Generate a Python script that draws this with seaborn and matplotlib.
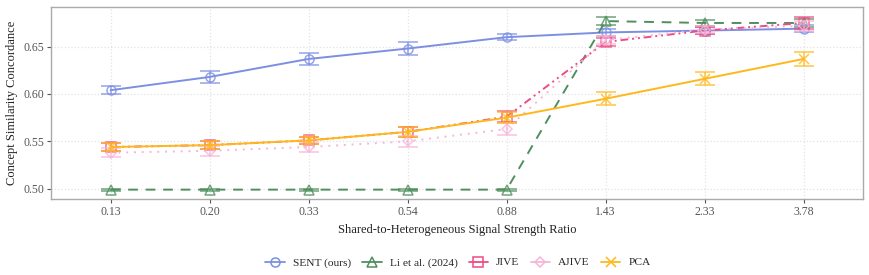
import matplotlib
matplotlib.use("Agg")
import matplotlib.pyplot as plt
import seaborn as sns
import pandas as pd

ratios = ["0.13", "0.20", "0.33", "0.54", "0.88", "1.43", "2.33", "3.78"]
sent = [0.604, 0.618, 0.637, 0.648, 0.660, 0.665, 0.667, 0.669]
sent_err = [0.004, 0.006, 0.006, 0.007, 0.003, 0.004, 0.004, 0.004]
li = [0.499, 0.499, 0.499, 0.499, 0.499, 0.677, 0.675, 0.675]
li_err = [0.001, 0.001, 0.001, 0.001, 0.001, 0.004, 0.003, 0.004]
jive = [0.544, 0.546, 0.551, 0.560, 0.576, 0.655, 0.667, 0.675]
jive_err = [0.004, 0.004, 0.004, 0.005, 0.006, 0.004, 0.004, 0.006]
ajive = [0.538, 0.540, 0.544, 0.550, 0.563, 0.657, 0.668, 0.672]
ajive_err = [0.005, 0.005, 0.005, 0.006, 0.006, 0.004, 0.004, 0.005]
pca = [0.544, 0.546, 0.551, 0.560, 0.575, 0.595, 0.616, 0.637]
pca_err = [0.004, 0.004, 0.004, 0.005, 0.006, 0.007, 0.007, 0.007]

methods = ["SENT (ours)", "Li et al. (2024)", "JIVE", "AJIVE", "PCA"]
values = [sent, li, jive, ajive, pca]
errors = [sent_err, li_err, jive_err, ajive_err, pca_err]
colors = ["#7D8FE3", "#4F8F5E", "#EE4B82", "#F7B5DA", "#FFB81C"]
markers = ["o", "^", "s", "D", "x"]
styles = ["-", (0, (5, 4)), (0, (4, 2, 1, 2, 1, 2)), (0, (1, 3)), "-"]

sns.set_theme(style="whitegrid")
plt.rcParams["font.family"] = ["Liberation Serif", "DejaVu Serif"]

fig = plt.figure(figsize=(8.69, 2.75), dpi=100)
ax = fig.add_axes([0.059, 0.276, 0.934, 0.699])

rows = []
for m, v, e in zip(methods, values, errors):
    for i, (r, y, err) in enumerate(zip(ratios, v, e)):
        rows.append({"ratio": r, "pos": i, "value": y, "err": err, "method": m})
df = pd.DataFrame(rows)

handles = []
for m, c, mk, ls in zip(methods, colors, markers, styles):
    sub = df[df["method"] == m]
    ms = 6.5 if mk != "D" else 5.5
    sns.lineplot(data=sub, x="pos", y="value", ax=ax, color=c, linestyle=ls,
                 linewidth=1.4, legend=False)
    ax.errorbar(sub["pos"], sub["value"], yerr=sub["err"], fmt="none",
                ecolor=c, elinewidth=1.2, capsize=7, capthick=1.2, alpha=0.75)
    ax.plot(sub["pos"], sub["value"], linestyle="none", marker=mk,
            markersize=ms, markerfacecolor="none",
            markeredgecolor=c, markeredgewidth=1.1, alpha=0.8)
    h, = ax.plot([], [], color=c, linestyle="-", linewidth=1.3, marker=mk,
                 markersize=ms, markerfacecolor="none",
                 markeredgecolor=c, markeredgewidth=1.1, label=m)
    handles.append(h)

ax.set_xticks(range(len(ratios)))
ax.set_xticklabels(ratios)
ax.set_xlim(-0.6, 7.6)
ax.set_ylim(0.489, 0.692)
ax.set_yticks([0.50, 0.55, 0.60, 0.65])
ax.set_yticklabels(["0.50", "0.55", "0.60", "0.65"])
ax.set_xlabel("Shared-to-Heterogeneous Signal Strength Ratio", fontsize=9, color="#222222")
ax.set_ylabel("Concept Similarity Concordance", fontsize=9, color="#222222")
ax.tick_params(axis="both", labelsize=8.5, colors="#555555", length=3, width=0.8,
               bottom=True, left=True, pad=2)
ax.grid(True, color="#e3e3e3", linestyle=":", linewidth=0.9)
ax.set_facecolor("white")
for s in ax.spines.values():
    s.set_color("#aaaaaa")
    s.set_linewidth(1.0)

fig.legend(handles=handles, labels=methods, loc="center", bbox_to_anchor=(0.527, 0.045),
           ncol=5, frameon=False, fontsize=8.2, handlelength=1.7, columnspacing=1.0,
           handletextpad=0.7)

fig.savefig("out.png", dpi=100)
